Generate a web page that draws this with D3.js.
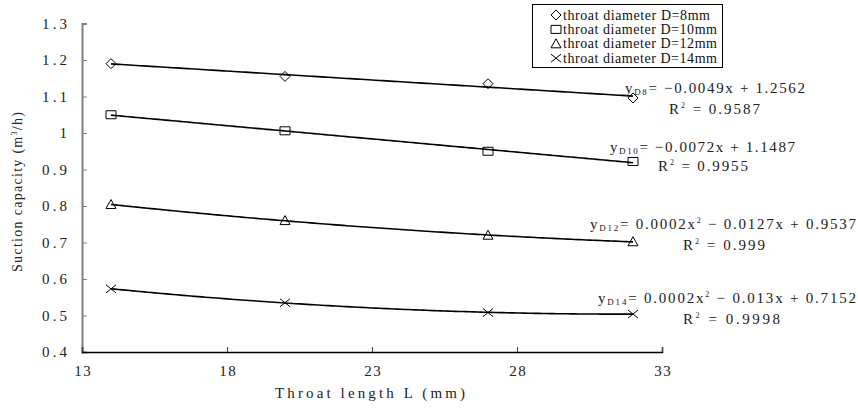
<!DOCTYPE html>
<html lang="en">
<head>
<meta charset="utf-8">
<title>Suction capacity vs throat length</title>
<script src="https://d3js.org/d3.v7.min.js"></script>
<style>
    body { margin: 0; background-color: white; }
    svg { display: block; font-family: "Liberation Serif", serif; }
</style>
</head>
<body>
<div id="chart_div"></div>
<script>
"use strict";

// data
var throatLength = [14, 20, 27, 32];
var suctionD8  = [1.190, 1.155, 1.135, 1.096];
var suctionD10 = [1.050, 1.006, 0.950, 0.922];
var suctionD12 = [0.804, 0.760, 0.720, 0.702];
var suctionD14 = [0.573, 0.535, 0.508, 0.504];

var seriesNames = ["throat diameter D=8mm", "throat diameter D=10mm",
                   "throat diameter D=12mm", "throat diameter D=14mm"];
var seriesMarks = ["diamond", "square", "triangle", "cross"];
var fitOrders = [1, 1, 2, 2];
var eqSubs = ["D8", "D10", "D12", "D14"];
var eqParts = [
    ["= \u22120.0049x + 1.2562"],
    ["= \u22120.0072x + 1.1487"],
    ["= 0.0002x", " \u2212 0.0127x + 0.9537"],
    ["= 0.0002x", " \u2212 0.013x + 0.7152"]
];
var rSquared = ["0.9587", "0.9955", "0.999", "0.9998"];

var xTicks = [13, 18, 23, 28, 33];
var yTicks = [0.4, 0.5, 0.6, 0.7, 0.8, 0.9, 1.0, 1.1, 1.2, 1.3];

var allSeries = [suctionD8, suctionD10, suctionD12, suctionD14];

var svg_width = 858;
var svg_height = 413;

var svg = d3.select("#chart_div")
    .append("svg")
    .attr("width", svg_width)
    .attr("height", svg_height);

var xscale = d3.scaleLinear().domain([13, 33]).range([82, 662]);
var yscale = d3.scaleLinear().domain([0.4, 1.3]).range([352, 23.5]);

// the original font gives every latin char the same width, so stretch to that
var charW = 8.3;
function monoWidth(s) { return s.length * charW; }

// least squares polynomial fit
function polyfit(xs, ys, deg)
{
    var n = deg + 1;
    var A = [];
    for (var i = 0; i < n; i++)
    {
        A.push([]);
        for (var j = 0; j <= n; j++) A[i].push(0);
    }
    xs.forEach(function(x, k)
    {
        for (var i = 0; i < n; i++)
        {
            for (var j = 0; j < n; j++) A[i][j] += Math.pow(x, i + j);
            A[i][n] += ys[k] * Math.pow(x, i);
        }
    });
    for (var c = 0; c < n; c++)
    {
        for (var r = c + 1; r < n; r++)
        {
            var f = A[r][c] / A[c][c];
            for (var k = c; k <= n; k++) A[r][k] -= f * A[c][k];
        }
    }
    var coef = new Array(n).fill(0);
    for (var r = n - 1; r >= 0; r--)
    {
        var s = A[r][n];
        for (var k = r + 1; k < n; k++) s -= A[r][k] * coef[k];
        coef[r] = s / A[r][r];
    }
    return function(x)
    {
        var v = 0;
        for (var i = 0; i < n; i++) v += coef[i] * Math.pow(x, i);
        return v;
    };
}

function markPath(type)
{
    if (type == "diamond") return "M0,-5L5,0L0,5L-5,0Z";
    if (type == "square") return "M-5,-4H5V4H-5Z";
    if (type == "triangle") return "M0,-5L5,4H-5Z";
    return "M-5,-4L5,4M-5,4L5,-4";
}

// axes
var xaxis = d3.axisBottom(xscale).tickValues(xTicks).tickSize(-5).tickPadding(13)
    .tickFormat(d3.format("d"));
var yaxis = d3.axisLeft(yscale).tickValues(yTicks).tickSize(-5).tickPadding(15)
    .tickFormat(function(d) { return d == 1 ? "1" : d3.format(".1f")(d); });

var gy = svg.append("g")
    .attr("transform", "translate(82,0)")
    .call(yaxis);
gy.select(".domain").attr("stroke", "#808080").attr("stroke-width", 2);
gy.selectAll(".tick line").attr("stroke", "#808080");
gy.selectAll("text")
    .attr("font-size", 15)
    .attr("fill", "#222")
    .attr("font-family", "Liberation Serif")
    .attr("textLength", function(d) { return monoWidth(this.textContent); })
    .attr("lengthAdjust", "spacing");

var gx = svg.append("g")
    .attr("transform", "translate(0,352)")
    .call(xaxis);
gx.select(".domain").attr("stroke", "#000").attr("stroke-width", 1.5);
gx.selectAll(".tick line").attr("stroke", "#444");
gx.selectAll("text")
    .attr("font-size", 15)
    .attr("fill", "#222")
    .attr("font-family", "Liberation Serif")
    .attr("textLength", function(d) { return monoWidth(this.textContent); })
    .attr("lengthAdjust", "spacing");

// axis titles
svg.append("text")
    .attr("x", 370)
    .attr("y", 398)
    .attr("text-anchor", "middle")
    .attr("font-size", 15)
    .attr("fill", "#222")
    .attr("textLength", 190)
    .attr("lengthAdjust", "spacing")
    .text("Throat length L (mm)");

var ytitle = svg.append("text")
    .attr("transform", "translate(22,192) rotate(-90)")
    .attr("text-anchor", "middle")
    .attr("font-size", 14)
    .attr("fill", "#222")
    .attr("textLength", 160)
    .attr("lengthAdjust", "spacing");
ytitle.append("tspan").text("Suction capacity (m");
ytitle.append("tspan").attr("font-size", 8).attr("dy", -5).text("3");
ytitle.append("tspan").attr("dy", 5).text("/h)");

// trend lines and markers
var line = d3.line()
    .x(function(d) { return xscale(d[0]); })
    .y(function(d) { return yscale(d[1]); })
    .curve(d3.curveMonotoneX);

allSeries.forEach(function(vals, si)
{
    var fit = polyfit(throatLength, vals, fitOrders[si]);
    var xs = d3.range(throatLength[0], throatLength[throatLength.length - 1] + 0.001, 0.25);
    svg.append("path")
        .datum(xs.map(function(x) { return [x, fit(x)]; }))
        .attr("fill", "none")
        .attr("stroke", "#000")
        .attr("stroke-width", 1.6)
        .attr("d", line);

    svg.selectAll(".mk" + si)
        .data(vals)
        .enter()
        .append("path")
        .attr("class", "mk" + si)
        .attr("transform", function(d, i)
        {
            return "translate(" + xscale(throatLength[i]) + "," + yscale(d) + ")";
        })
        .attr("d", markPath(seriesMarks[si]))
        .attr("fill", "none")
        .attr("stroke", "#000")
        .attr("stroke-width", 1);
});

// equations: x, y, width of the equation; x, y, width of the R2 line
var eqPos = [[625, 93, 180, 669, 114, 91], [610, 152, 185, 658, 171, 90],
             [590, 229, 266, 683, 250, 82], [598, 303, 258, 683, 324, 97]];
eqPos.forEach(function(p, si)
{
    var t = svg.append("text")
        .attr("x", p[0])
        .attr("y", p[1])
        .attr("font-size", 15)
        .attr("fill", "#222")
        .attr("textLength", p[2])
        .attr("lengthAdjust", "spacing");
    t.append("tspan").text("y");
    t.append("tspan").attr("font-size", 9).attr("dy", 2).text(eqSubs[si]);
    t.append("tspan").attr("dy", -2).text(eqParts[si][0]);
    if (eqParts[si].length > 1)
    {
        t.append("tspan").attr("font-size", 8).attr("dy", -6).text("2");
        t.append("tspan").attr("dy", 6).text(eqParts[si][1]);
    }
    var r = svg.append("text")
        .attr("x", p[3])
        .attr("y", p[4])
        .attr("font-size", 15)
        .attr("fill", "#222")
        .attr("textLength", p[5])
        .attr("lengthAdjust", "spacing");
    r.append("tspan").text("R");
    r.append("tspan").attr("font-size", 8).attr("dy", -6).text("2");
    r.append("tspan").attr("dy", 6).text(" = " + rSquared[si]);
});

// legend
var legend = svg.append("g");
legend.append("rect")
    .attr("x", 532.5)
    .attr("y", 4.5)
    .attr("width", 190)
    .attr("height", 63)
    .attr("fill", "white")
    .attr("stroke", "#000")
    .attr("stroke-width", 1);
seriesNames.forEach(function(name, si)
{
    var cy = 15 + si * 14.4;
    legend.append("path")
        .attr("transform", "translate(556," + cy + ")")
        .attr("d", markPath(seriesMarks[si]))
        .attr("fill", "none")
        .attr("stroke", "#000")
        .attr("stroke-width", 1);
    legend.append("text")
        .attr("x", 563)
        .attr("y", cy + 4.5)
        .attr("font-size", 14)
        .attr("fill", "#111")
        .attr("textLength", name.length * 7)
        .attr("lengthAdjust", "spacing")
        .text(name);
});
</script>
</body>
</html>
